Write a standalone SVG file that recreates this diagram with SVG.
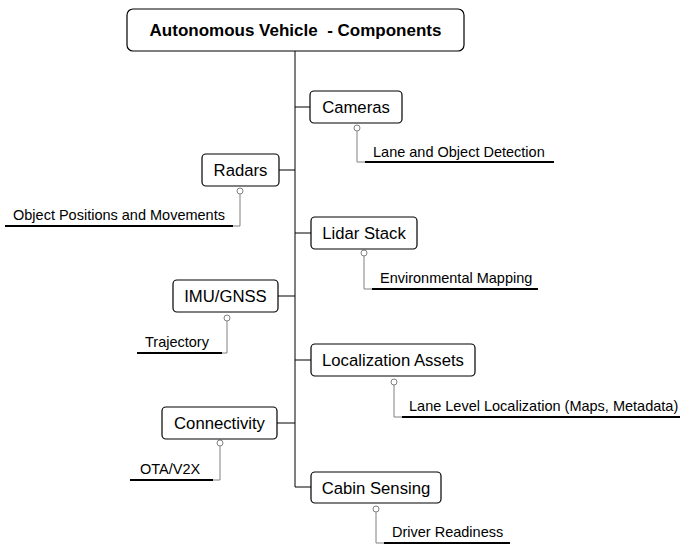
<svg xmlns="http://www.w3.org/2000/svg" width="681" height="544" viewBox="0 0 681 544">
<style>
.box{fill:#fff;stroke:#000;stroke-width:1.2}
.t{font-family:"Liberation Sans",Arial,sans-serif;font-size:16.7px;fill:#000;text-anchor:middle}
.title{font-weight:bold;font-size:17px;white-space:pre}
.l{font-family:"Liberation Sans",Arial,sans-serif;font-size:14.5px;fill:#000}
.c{fill:none;stroke:#000;stroke-width:1}
.g{fill:none;stroke:#808080;stroke-width:1}
.u{stroke:#000;stroke-width:2}
.dot{fill:#fff;stroke:#808080;stroke-width:1}
</style>
<rect width="681" height="544" fill="#fff"/>
<g id="connectors">
<path class="c" d="M295,51 V487 H311"/>
<path class="c" d="M295,107 H310"/>
<path class="c" d="M279,170 H295"/>
<path class="c" d="M295,233 H311"/>
<path class="c" d="M278,296 H295"/>
<path class="c" d="M295,360 H311"/>
<path class="c" d="M277,423 H295"/>
<path class="g" d="M357,131 V162 H365"/>
<path class="g" d="M240,194 V226 H233"/>
<path class="g" d="M364,256 V289 H372"/>
<path class="g" d="M227,321 V353 H222"/>
<path class="g" d="M394,385 V417 H402"/>
<path class="g" d="M220,446 V480 H213"/>
<path class="g" d="M376,512 V543 H384"/>
<circle class="dot" cx="357" cy="128" r="3"/>
<circle class="dot" cx="240" cy="191" r="3"/>
<circle class="dot" cx="364" cy="253" r="3"/>
<circle class="dot" cx="227" cy="318" r="3"/>
<circle class="dot" cx="394" cy="382" r="3"/>
<circle class="dot" cx="220" cy="443" r="3"/>
<circle class="dot" cx="376" cy="509" r="3"/>
</g>
<g id="title"><rect class="box" x="127" y="9" width="337" height="42" rx="6"/><text class="t title" x="295.5" y="36">Autonomous Vehicle  - Components</text></g>
<g id="cameras"><rect class="box" x="310" y="91" width="92" height="32" rx="4"/><text class="t" x="356" y="113">Cameras</text></g>
<g id="cameras-leaf"><line class="u" x1="365" y1="162" x2="554" y2="162"/><text class="l" x="373" y="157">Lane and Object Detection</text></g>
<g id="radars"><rect class="box" x="202" y="154" width="77" height="32" rx="4"/><text class="t" x="240.5" y="176">Radars</text></g>
<g id="radars-leaf"><line class="u" x1="5" y1="226" x2="233" y2="226"/><text class="l" x="13" y="220">Object Positions and Movements</text></g>
<g id="lidar"><rect class="box" x="311" y="217" width="106" height="32" rx="4"/><text class="t" x="364" y="239">Lidar Stack</text></g>
<g id="lidar-leaf"><line class="u" x1="372" y1="289" x2="538" y2="289"/><text class="l" x="380" y="283">Environmental Mapping</text></g>
<g id="imu"><rect class="box" x="173" y="280" width="105" height="32" rx="4"/><text class="t" x="225.5" y="302">IMU/GNSS</text></g>
<g id="imu-leaf"><line class="u" x1="137" y1="353" x2="222" y2="353"/><text class="l" x="145" y="347">Trajectory</text></g>
<g id="localization"><rect class="box" x="311" y="344" width="164" height="32" rx="4"/><text class="t" x="393" y="366">Localization Assets</text></g>
<g id="localization-leaf"><line class="u" x1="402" y1="417" x2="680" y2="417"/><text class="l" x="409" y="411">Lane Level Localization (Maps, Metadata)</text></g>
<g id="connectivity"><rect class="box" x="162" y="407" width="115" height="32" rx="4"/><text class="t" x="219.5" y="429">Connectivity</text></g>
<g id="connectivity-leaf"><line class="u" x1="130" y1="480" x2="213" y2="480"/><text class="l" x="140" y="474">OTA/V2X</text></g>
<g id="cabin"><rect class="box" x="311" y="472" width="130" height="31" rx="4"/><text class="t" x="376" y="494">Cabin Sensing</text></g>
<g id="cabin-leaf"><line class="u" x1="384" y1="543" x2="510" y2="543"/><text class="l" x="392" y="537">Driver Readiness</text></g>
</svg>
